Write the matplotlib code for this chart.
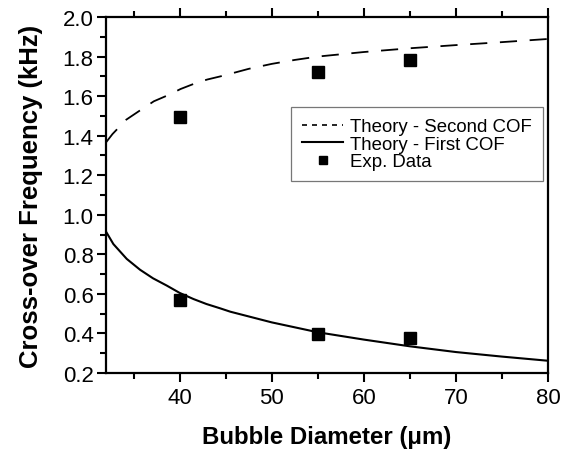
import matplotlib
matplotlib.use("Agg")
import matplotlib.pyplot as plt
from matplotlib.lines import Line2D
from matplotlib.ticker import MultipleLocator, FormatStrFormatter

plt.rcParams['font.family'] = ['Liberation Sans', 'DejaVu Sans']

# Theory - Second COF (dashed)
d_second = [32.0, 32.7, 34.2, 35.8, 37.2, 38.8, 40.1, 41.7, 43.0, 44.7, 47.5, 50.0, 52.5, 55.0, 60.0, 65.0, 70.0, 75.0, 80.0]
f_second = [1.366, 1.408, 1.481, 1.531, 1.574, 1.606, 1.636, 1.665, 1.684, 1.703, 1.738, 1.763, 1.783, 1.800, 1.823, 1.842, 1.858, 1.873, 1.889]

# Theory - First COF (solid)
d_first = [32.0, 32.8, 34.25, 35.7, 37.1, 38.6, 40.0, 41.5, 42.9, 44.4, 45.5, 50.0, 55.0, 60.0, 65.0, 70.0, 75.0, 80.0]
f_first = [0.915, 0.852, 0.777, 0.722, 0.679, 0.642, 0.605, 0.574, 0.549, 0.527, 0.51, 0.456, 0.406, 0.369, 0.335, 0.306, 0.283, 0.262]

# Experimental data
d_exp = [40, 55, 65, 40, 55, 65]
f_exp = [1.493, 1.723, 1.784, 0.569, 0.397, 0.375]

fig = plt.figure(figsize=(5.73, 4.56), dpi=100)
ax = fig.add_axes([0.185, 0.1798, 0.7714, 0.7807])

ax.plot(d_second, f_second, color='black', lw=1.3, dashes=(9.5, 7))
ax.plot(d_first, f_first, color='black', lw=1.5)
ax.plot(d_exp, f_exp, ls='none', marker='s', ms=8, color='black')

ax.set_xlim(32, 80)
ax.set_ylim(0.2, 2.0)
ax.xaxis.set_major_locator(MultipleLocator(10))
ax.xaxis.set_minor_locator(MultipleLocator(5))
ax.yaxis.set_major_locator(MultipleLocator(0.2))
ax.yaxis.set_minor_locator(MultipleLocator(0.1))
ax.yaxis.set_major_formatter(FormatStrFormatter('%.1f'))

for s in ax.spines.values():
    s.set_linewidth(1.6)

ax.tick_params(which='both', direction='out', top=True, right=False, width=1.5,
               labelsize=16)
ax.tick_params(axis='x', which='both', pad=3.5)
ax.tick_params(axis='y', which='both', pad=2.5)
ax.tick_params(which='major', length=6.5)
ax.tick_params(which='minor', length=4)

ax.set_xlabel('Bubble Diameter (\u03bcm)', fontsize=17.3, fontweight='bold', labelpad=12)
ax.set_ylabel('Cross-over Frequency (kHz)', fontsize=18.5, fontweight='bold', labelpad=14)

handles = [
    Line2D([], [], color='black', lw=1.2, dashes=(3, 3)),
    Line2D([], [], color='black', lw=1.5),
    Line2D([], [], color='black', ls='none', marker='s', ms=6),
]
labels = ['Theory - Second COF', 'Theory - First COF', 'Exp. Data']
leg = ax.legend(handles, labels, loc='upper right', bbox_to_anchor=(0.988, 0.747),
                fontsize=13.4, frameon=True, fancybox=False, handlelength=2.2,
                handletextpad=0.35, borderpad=0.6, labelspacing=0.02, borderaxespad=0)
leg.get_frame().set_edgecolor('#555555')
leg.get_frame().set_linewidth(0.9)

fig.savefig('out.png', dpi=100)
